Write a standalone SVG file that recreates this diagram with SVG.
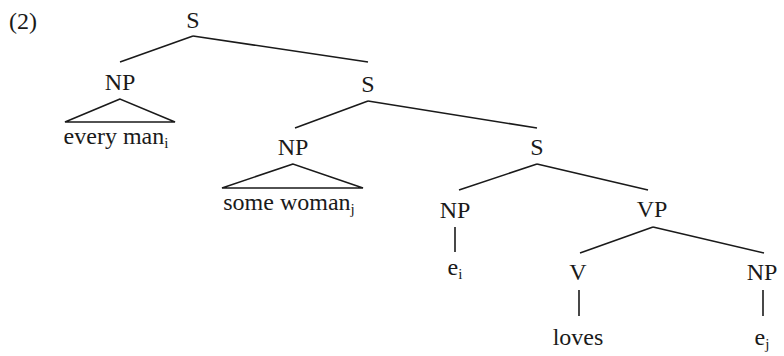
<svg xmlns="http://www.w3.org/2000/svg" width="784" height="356" viewBox="0 0 784 356">
<style>
text{font-family:"Liberation Serif","Times New Roman",serif;font-size:24px;fill:#1a1a1a;text-anchor:middle}
.sub{font-size:15px}
.e line,.tri{stroke:#1a1a1a;stroke-width:1.6;fill:none}
</style>
<rect width="784" height="356" fill="#fff"/>
<text x="23" y="29">(2)</text>
<g id="S1"><text x="193" y="28">S</text></g>
<g id="NP1"><text x="120" y="90">NP</text></g>
<g id="T1"><polygon class="tri" points="120,99 65,122 175,122"/><text x="116" y="144">every man<tspan class="sub" dy="4">i</tspan></text></g>
<g id="S2"><text x="368" y="92">S</text></g>
<g id="NP2"><text x="293" y="155">NP</text></g>
<g id="T2"><polygon class="tri" points="293,164 222,188 363,188"/><text x="289" y="210">some woman<tspan class="sub" dy="4">j</tspan></text></g>
<g id="S3"><text x="537" y="155">S</text></g>
<g id="NP3"><text x="455" y="218">NP</text></g>
<g id="ei"><text x="455" y="275">e<tspan class="sub" dy="4">i</tspan></text></g>
<g id="VP"><text x="652" y="217">VP</text></g>
<g id="V"><text x="578" y="280">V</text></g>
<g id="loves"><text x="578" y="345">loves</text></g>
<g id="NP4"><text x="762" y="280">NP</text></g>
<g id="ej"><text x="762" y="345">e<tspan class="sub" dy="4">j</tspan></text></g>
<g id="connectors" class="e">
<line x1="193" y1="36" x2="120" y2="62"/>
<line x1="193" y1="36" x2="368" y2="62"/>
<line x1="368" y1="101" x2="295" y2="128"/>
<line x1="368" y1="101" x2="537" y2="128"/>
<line x1="537" y1="164" x2="459" y2="190"/>
<line x1="537" y1="164" x2="648" y2="190"/>
<line x1="455" y1="227" x2="455" y2="252"/>
<line x1="653" y1="227" x2="580" y2="253"/>
<line x1="653" y1="227" x2="764" y2="253"/>
<line x1="579" y1="290" x2="579" y2="316"/>
<line x1="763" y1="290" x2="763" y2="316"/>
</g>
</svg>
